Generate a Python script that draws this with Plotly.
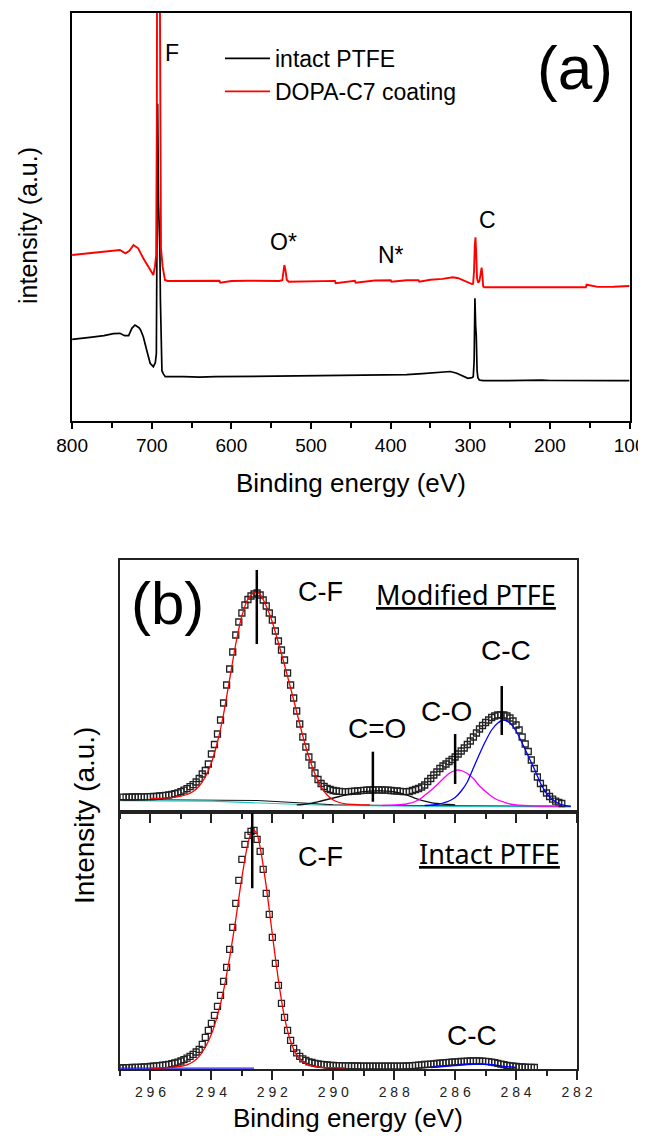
import numpy as np
import plotly.graph_objects as go

# page is rendered with an 8 px body margin; figure placed so that page pixels match
PAGE_MARGIN = 8
W, H = 646 - PAGE_MARGIN, 1143 - 2 * PAGE_MARGIN
FONT = "Liberation Sans, Arial, sans-serif"


def fx(p):
    return (p - PAGE_MARGIN) / W


def fy(p):
    return 1 - (p - PAGE_MARGIN) / H


# ---------------- (a) XPS survey spectra ----------------
survey_intact_be = [800, 790, 775, 760, 748, 740, 734, 729, 725, 721,
                    716, 714, 710.6, 706.4, 702, 698, 695.5, 694.2, 693.4, 692.6,
                    691.6, 690.9, 689.8, 689.1, 688.2, 687.2, 685.6, 683, 660, 640,
                    620, 600, 580, 560, 540, 520, 500, 480, 460, 440,
                    420, 400, 380, 360, 340, 325, 317, 310, 303, 298,
                    296.3, 295.2, 294.2, 293.3, 292.5, 291.5, 290.5, 288.7, 284, 270,
                    250, 230, 210, 200, 180, 150, 120, 100]
survey_intact_int = [81.4, 82.5, 83.5, 85, 87, 87.4, 85, 85, 92.4, 95.7,
                     93, 90.7, 84, 70.7, 57.4, 54, 58, 67, 200, 317,
                     220, 200, 171, 120, 70, 50, 47, 44, 44, 43.5,
                     44, 44.2, 44, 44.5, 44.3, 44.5, 44.5, 44.8, 45, 45.2,
                     45.5, 45.7, 46, 47, 48.5, 49.2, 47.4, 45, 42.4, 43,
                     44, 60, 122.4, 95, 85, 50, 43, 40.7, 40, 40,
                     40.3, 40, 40.5, 40.2, 40, 40.3, 40, 40]

survey_coated_be = [800, 785, 770, 755, 745, 740, 733, 728, 723, 717,
                    710.6, 704.3, 700, 698, 696, 694.5, 693.6, 693.3, 689.9, 689.6,
                    688.4, 686.3, 683.4, 680, 660, 640, 615, 614, 600, 580,
                    560, 545, 540, 536, 534.5, 533.5, 532, 530.5, 528, 520,
                    500, 470, 469, 445, 444, 420, 400, 399, 380, 365,
                    364, 350, 335, 322, 315, 308, 302, 298, 296.5, 295.3,
                    294.4, 293.5, 292.5, 291.5, 290, 288.5, 287, 285.8, 284.8, 283.8,
                    282, 260, 240, 220, 200, 180, 160, 155, 154, 140,
                    120, 100]
survey_coated_int = [165.7, 167, 168.5, 169.5, 170.5, 170.7, 167.4, 170, 175.7, 172.4,
                     162.4, 154, 147.4, 145.7, 154, 165, 300, 450, 450, 300,
                     172.4, 154, 140.7, 139.7, 139.7, 140, 140, 138, 139.7, 140,
                     139.7, 139.5, 139.7, 140.5, 150, 155.7, 150, 141, 139, 139.2,
                     139.5, 139.8, 137.5, 140, 138, 140.2, 140.5, 139, 140.5, 140.5,
                     139, 141, 141.8, 143.4, 142.5, 140, 137.5, 136.7, 137, 150,
                     175, 183.4, 165, 142, 138, 140, 147, 153, 145, 134,
                     133.4, 133.4, 133.4, 133.6, 133.5, 133.6, 133.5, 133.5, 136, 133.8,
                     134, 134.7]

survey_labels = ["F", "O*", "N*", "C"]
survey_label_be = [675, 534, 400, 278]
survey_label_int = [368, 179, 166, 201]

# ---------------- (b) C1s high resolution ----------------
# Modified PTFE: measured points, 296.9 eV downward in 0.1 eV steps
mod_points = [14.8, 14.8, 14.9, 15.0, 15.0, 15.1, 15.2, 15.2, 15.3, 15.4,
              15.5, 15.7, 16.0, 16.3, 16.7, 17.0, 17.6, 18.3, 19.2, 20.3,
              21.8, 23.3, 25.3, 27.3, 30.0, 33.5, 38.0, 41.5, 48.0, 58.0,
              67.5, 78, 92, 109, 127, 143, 160, 177, 190, 199,
              207, 212.5, 216, 218, 219, 217, 212, 206, 199, 192,
              181, 171, 162, 152, 139, 127, 114, 101, 88, 75,
              65, 55, 47, 39, 32.5, 28.5, 25.5, 23.7, 22.5, 21.5,
              21.0, 20.6, 20.4, 20.3, 20.4, 20.6, 20.8, 21.0, 21.3, 21.6,
              21.8, 22.0, 22.0, 22.1, 22.1, 22.0, 21.9, 21.8, 21.5, 21.2,
              21.0, 20.6, 20.4, 20.3, 20.5, 21.5, 22.5, 23.5, 25.0, 27.0,
              30.5, 33.5, 37, 40, 43.5, 46, 48, 50.5, 52.5, 55,
              58, 61, 64, 67.5, 71, 75, 79, 83, 86.5, 89.5,
              92, 94.5, 96, 97, 97.2, 97, 96, 94, 91, 87,
              82, 75, 68, 60.5, 52, 43.5, 35, 28.5, 23.5, 19,
              15.5, 12.8, 10.8, 9.5, 8.5]
mod_start_be = 296.9

mod_cf_be = [296.0, 295.6, 295.2, 294.8, 294.6, 294.4, 294.2, 294.0, 293.8, 293.6,
             293.4, 293.2, 293.0, 292.8, 292.6, 292.5, 292.4, 292.2, 292.0, 291.8,
             291.6, 291.4, 291.2, 291.0, 290.8, 290.6, 290.4, 290.2, 290.0, 289.8,
             289.6, 289.2, 288.8]
mod_cf_int = [13.5, 13.8, 14.8, 17.5, 20.5, 26, 35, 49, 70, 98,
              133, 168, 196, 213, 219.5, 220, 217.5, 206, 190, 169,
              147, 124, 100, 76, 55, 38, 25, 17, 12, 9.5,
              8.2, 7.4, 7.0]
mod_co2_be = [291.2, 291.0, 290.8, 290.6, 290.4, 290.2, 290.0, 289.8, 289.6, 289.4,
              289.2, 289.0, 288.8, 288.6, 288.4, 288.2, 288.0, 287.8, 287.6, 287.4,
              287.2, 287.0, 286.8, 286.6, 286.4, 286.2, 286.0]
mod_co2_int = [7.2, 7.5, 8.3, 9.5, 11, 12.5, 14, 15.5, 17, 18.3,
               19.4, 20.3, 20.9, 21.2, 21.2, 20.8, 20, 18.8, 17, 14.8,
               12.6, 10.8, 9.4, 8.5, 7.9, 7.5, 7.2]
mod_co_be = [288.4, 288.0, 287.6, 287.2, 287.0, 286.8, 286.6, 286.4, 286.2, 286.0,
             285.9, 285.8, 285.6, 285.4, 285.2, 285.0, 284.8, 284.6, 284.4, 284.2,
             284.0, 283.6, 283.2, 282.6]
mod_co_int = [6.5, 7, 8, 12, 16.7, 21.5, 27, 33, 38.5, 41.5,
              42, 41.5, 38.5, 33.5, 26, 20.5, 15.5, 12, 10, 8,
              7, 6.3, 6, 6]
mod_cc_be = [287.0, 286.6, 286.4, 286.2, 286.0, 285.8, 285.6, 285.4, 285.2, 285.0,
             284.8, 284.6, 284.4, 284.2, 284.0, 283.8, 283.6, 283.4, 283.2, 283.0,
             282.8, 282.6, 282.4, 282.2]
mod_cc_int = [6.5, 7.5, 9, 11, 14.5, 21, 30, 44, 58, 71,
              82, 89, 92, 89, 81, 69, 56, 43, 29, 18.5,
              12.5, 8.5, 6.5, 5.8]
mod_bg1_be = [297.0, 294.0, 292.5, 291.0, 290.0, 288.0, 282.2]
mod_bg1_int = [12.5, 12.2, 11.5, 9.0, 7.2, 6.5, 5.5]
mod_bg2_be = [297.0, 294.0, 291.5, 290.0, 286.0, 282.2]
mod_bg2_int = [11.3, 10.8, 8.0, 6.5, 5.5, 5.0]

# Intact PTFE: measured points, 297.0 eV downward in 0.1 eV steps
int_points = [1.5, 1.5, 1.6, 1.7, 1.8, 1.9, 2.0, 2.1, 2.3, 2.5,
              2.8, 3.1, 3.4, 3.7, 4.1, 4.5, 5.0, 5.6, 6.3, 7.2,
              8.3, 9.7, 11.2, 13.0, 15.0, 17.3, 20.0, 25.0, 32.0, 39.0,
              46, 54, 63, 74, 88, 102, 120, 142, 166, 189,
              210, 225, 234, 238, 239, 230, 218, 200, 176, 155,
              132, 106, 84, 66, 52, 39, 29, 21, 16.5, 13,
              10.5, 9.0, 7.5, 6.8, 6.0, 5.5, 5.0, 4.6, 4.3, 4.0,
              3.8, 3.7, 3.6, 3.5, 3.4, 3.4, 3.3, 3.3, 3.3, 3.2,
              3.2, 3.2, 3.2, 3.1, 3.1, 3.1, 3.1, 3.1, 3.1, 3.1,
              3.1, 3.1, 3.2, 3.2, 3.3, 3.4, 3.6, 3.9, 4.2, 4.5,
              4.8, 5.0, 5.2, 5.5, 5.8, 6.1, 6.4, 6.7, 7.0, 7.2,
              7.4, 7.6, 7.8, 8.0, 8.2, 8.3, 8.4, 8.4, 8.3, 8.2,
              8.0, 7.7, 7.2, 6.6, 5.9, 5.2, 4.6, 4.0, 3.5, 3.1,
              2.8, 2.5, 2.3, 2.1, 2.0, 1.9, 1.8]
int_start_be = 297.0

int_cf_be = [296.0, 295.6, 295.2, 294.8, 294.6, 294.4, 294.2, 294.0, 293.8, 293.6,
             293.4, 293.2, 293.0, 292.8, 292.7, 292.6, 292.5, 292.4, 292.2, 292.0,
             291.8, 291.6, 291.4, 291.2, 291.0, 290.8, 290.6, 290.4, 290.0, 289.6]
int_cf_int = [1.2, 1.5, 2.3, 4.5, 7.5, 13, 22, 35, 54, 79,
              112, 150, 192, 226, 236, 239, 235, 222, 183, 135,
              89, 52, 28, 14, 7.5, 4.2, 2.7, 2.0, 1.6, 1.4]
int_bg_be = [297.0, 292.6]
int_bg_int = [1.2, 1.2]
int_cc_be = [286.8, 286.4, 286.0, 285.6, 285.2, 284.8, 284.4, 284.0]
int_cc_int = [1.8, 2.8, 3.8, 4.8, 5.2, 4.6, 3.0, 1.8]

# peak markers: position (eV), marker bottom / top (intensity)
mod_marker_be = [292.51, 288.7, 286.0, 284.47]
mod_marker_lo = [168, 10.3, 28, 77]
mod_marker_hi = [242, 60.3, 78, 126]
int_marker_be = [292.66]
int_marker_lo = [181]
int_marker_hi = [256]

b_tick_vals = [296, 294, 292, 290, 288, 286, 284, 282]
b_tick_text = ["2 9 6", "2 9 4", "2 9 2", "2 9 0", "2 8 8", "2 8 6", "2 8 4", "2 8 2"]

mod_be = np.round(mod_start_be - 0.1 * np.arange(len(mod_points)), 1)
int_be = np.round(int_start_be - 0.1 * np.arange(len(int_points)), 1)

fig = go.Figure()

# (a)
fig.add_trace(go.Scatter(x=survey_intact_be, y=survey_intact_int, mode="lines",
                         line=dict(color="black", width=1.7), name="intact PTFE",
                         xaxis="x", yaxis="y"))
fig.add_trace(go.Scatter(x=survey_coated_be, y=survey_coated_int, mode="lines",
                         line=dict(color="#ff0000", width=1.9), name="DOPA-C7 coating",
                         xaxis="x", yaxis="y"))

# (b) upper: modified PTFE
for bx, by, col in [(mod_bg1_be, mod_bg1_int, "#111111"), (mod_bg2_be, mod_bg2_int, "#22c8c8")]:
    fig.add_trace(go.Scatter(x=bx, y=by, mode="lines", line=dict(color=col, width=1.2),
                             showlegend=False, xaxis="x2", yaxis="y2"))
fig.add_trace(go.Scatter(x=mod_be, y=mod_points, mode="markers",
                         marker=dict(symbol="square-open", size=6, color="#222222",
                                     line=dict(width=1.3)),
                         showlegend=False, xaxis="x2", yaxis="y2"))
for bx, by, col in [(mod_co2_be, mod_co2_int, "#111111"),
                    (mod_co_be, mod_co_int, "#ff00ff"),
                    (mod_cc_be, mod_cc_int, "#0000ff"),
                    (mod_cf_be, mod_cf_int, "#ff0000")]:
    fig.add_trace(go.Scatter(x=bx, y=by, mode="lines",
                             line=dict(color=col, width=1.3, shape="spline", smoothing=0.6),
                             showlegend=False, xaxis="x2", yaxis="y2"))

# (b) lower: intact PTFE
fig.add_trace(go.Scatter(x=int_be, y=int_points, mode="markers",
                         marker=dict(symbol="square-open", size=6, color="#222222",
                                     line=dict(width=1.3)),
                         showlegend=False, xaxis="x3", yaxis="y3"))
for bx, by, col in [(int_bg_be, int_bg_int, "#2020ff"),
                    (int_cc_be, int_cc_int, "#0000ff"),
                    (int_cf_be, int_cf_int, "#ff0000")]:
    fig.add_trace(go.Scatter(x=bx, y=by, mode="lines",
                             line=dict(color=col, width=1.3, shape="spline", smoothing=0.6),
                             showlegend=False, xaxis="x3", yaxis="y3"))

shapes = []
for xb, lo, hi in zip(mod_marker_be, mod_marker_lo, mod_marker_hi):
    shapes.append(dict(type="line", xref="x2", yref="y2", x0=xb, x1=xb, y0=lo, y1=hi,
                       line=dict(color="black", width=2.5)))
for xb, lo, hi in zip(int_marker_be, int_marker_lo, int_marker_hi):
    shapes.append(dict(type="line", xref="x3", yref="y3", x0=xb, x1=xb, y0=lo, y1=hi,
                       line=dict(color="black", width=2.5)))

annotations = []
for t, xb, yi in zip(survey_labels, survey_label_be, survey_label_int):
    annotations.append(dict(text=t, x=xb, y=yi, xref="x", yref="y", showarrow=False,
                            font=dict(size=23, color="black", family=FONT)))


def lab(text, x, y, size, rot=0, family=FONT):
    annotations.append(dict(text=text, x=fx(x), y=fy(y), xref="paper", yref="paper",
                            showarrow=False, textangle=rot, xanchor="center", yanchor="middle",
                            font=dict(size=size, color="black", family=family)))


lab("(a)", 575, 68, 62)
lab("Binding energy (eV)", 351, 483, 26)
lab("intensity (a.u.)", 28, 226, 25, rot=-90)
lab("(b)", 167, 603, 60)
lab("C-F", 320, 592, 27)
lab("<u>Modified PTFE</u>", 466, 594, 27, family="Noto Sans, Liberation Sans, sans-serif")
lab("C-C", 506, 650, 28)
lab("C-O", 446, 711, 28)
lab("C=O", 377, 728, 28)
lab("C-F", 320, 857, 27)
lab("<u>Intact PTFE</u>", 490, 853, 27, family="Noto Sans, Liberation Sans, sans-serif")
lab("C-C", 472, 1035, 28)
lab("Intensity (a.u.)", 84, 816, 28, rot=-90)
lab("Binding energy (eV)", 348, 1118, 26)

axis_common = dict(showgrid=False, zeroline=False, showline=True, mirror=True,
                   automargin=False)

fig.update_layout(
    width=W, height=H, margin=dict(l=0, r=0, t=0, b=0, pad=0, autoexpand=False),
    paper_bgcolor="white", plot_bgcolor="white",
    font=dict(family=FONT, color="black"),
    shapes=shapes, annotations=annotations,
    showlegend=True,
    legend=dict(x=fx(220), y=fy(37), xanchor="left", yanchor="top",
                font=dict(size=23, family=FONT, color="black"),
                bgcolor="rgba(0,0,0,0)", itemwidth=45, tracegroupgap=0),
    xaxis=dict(**axis_common, domain=[fx(72.1), fx(629.6)], range=[800, 100], anchor="y",
               linecolor="black", linewidth=2, ticks="outside", ticklen=6, tickwidth=1.5,
               tickcolor="black", tick0=100, dtick=100,
               tickfont=dict(size=19, family=FONT, color="black"),
               minor=dict(ticks="outside", ticklen=5, tickwidth=1.5, tickcolor="black",
                          tick0=100, dtick=50)),
    yaxis=dict(**axis_common, domain=[fy(420.7), fy(12.7)], range=[0, 408], anchor="x",
               linecolor="black", linewidth=2, ticks="", showticklabels=False),
    xaxis2=dict(**axis_common, domain=[fx(120), fx(577)], range=[297, 282], anchor="y2",
                linecolor="#222222", linewidth=2, ticks="outside", ticklen=9, tickwidth=1.5,
                tickcolor="#222222", tick0=282, dtick=2, showticklabels=False,
                minor=dict(ticks="outside", ticklen=5, tickwidth=1.5, tickcolor="#222222",
                           tick0=282, dtick=1)),
    yaxis2=dict(**axis_common, domain=[fy(812), fy(560)], range=[0, 252], anchor="x2",
                linecolor="#222222", linewidth=2, ticks="", showticklabels=False),
    xaxis3=dict(**axis_common, domain=[fx(120), fx(577)], range=[297, 282], anchor="y3",
                linecolor="#222222", linewidth=2, ticks="outside", ticklen=9, tickwidth=1.5,
                tickcolor="#222222", tickmode="array", tickvals=b_tick_vals,
                ticktext=b_tick_text,
                tickfont=dict(size=14, family=FONT, color="#222222"),
                minor=dict(ticks="outside", ticklen=5, tickwidth=1.5, tickcolor="#222222",
                           tickmode="linear", tick0=282, dtick=1)),
    yaxis3=dict(**axis_common, domain=[fy(1069.3), fy(812)], range=[0, 257.3], anchor="x3",
                linecolor="#222222", linewidth=2, ticks="", showticklabels=False),
)

fig.write_html("out.html")
